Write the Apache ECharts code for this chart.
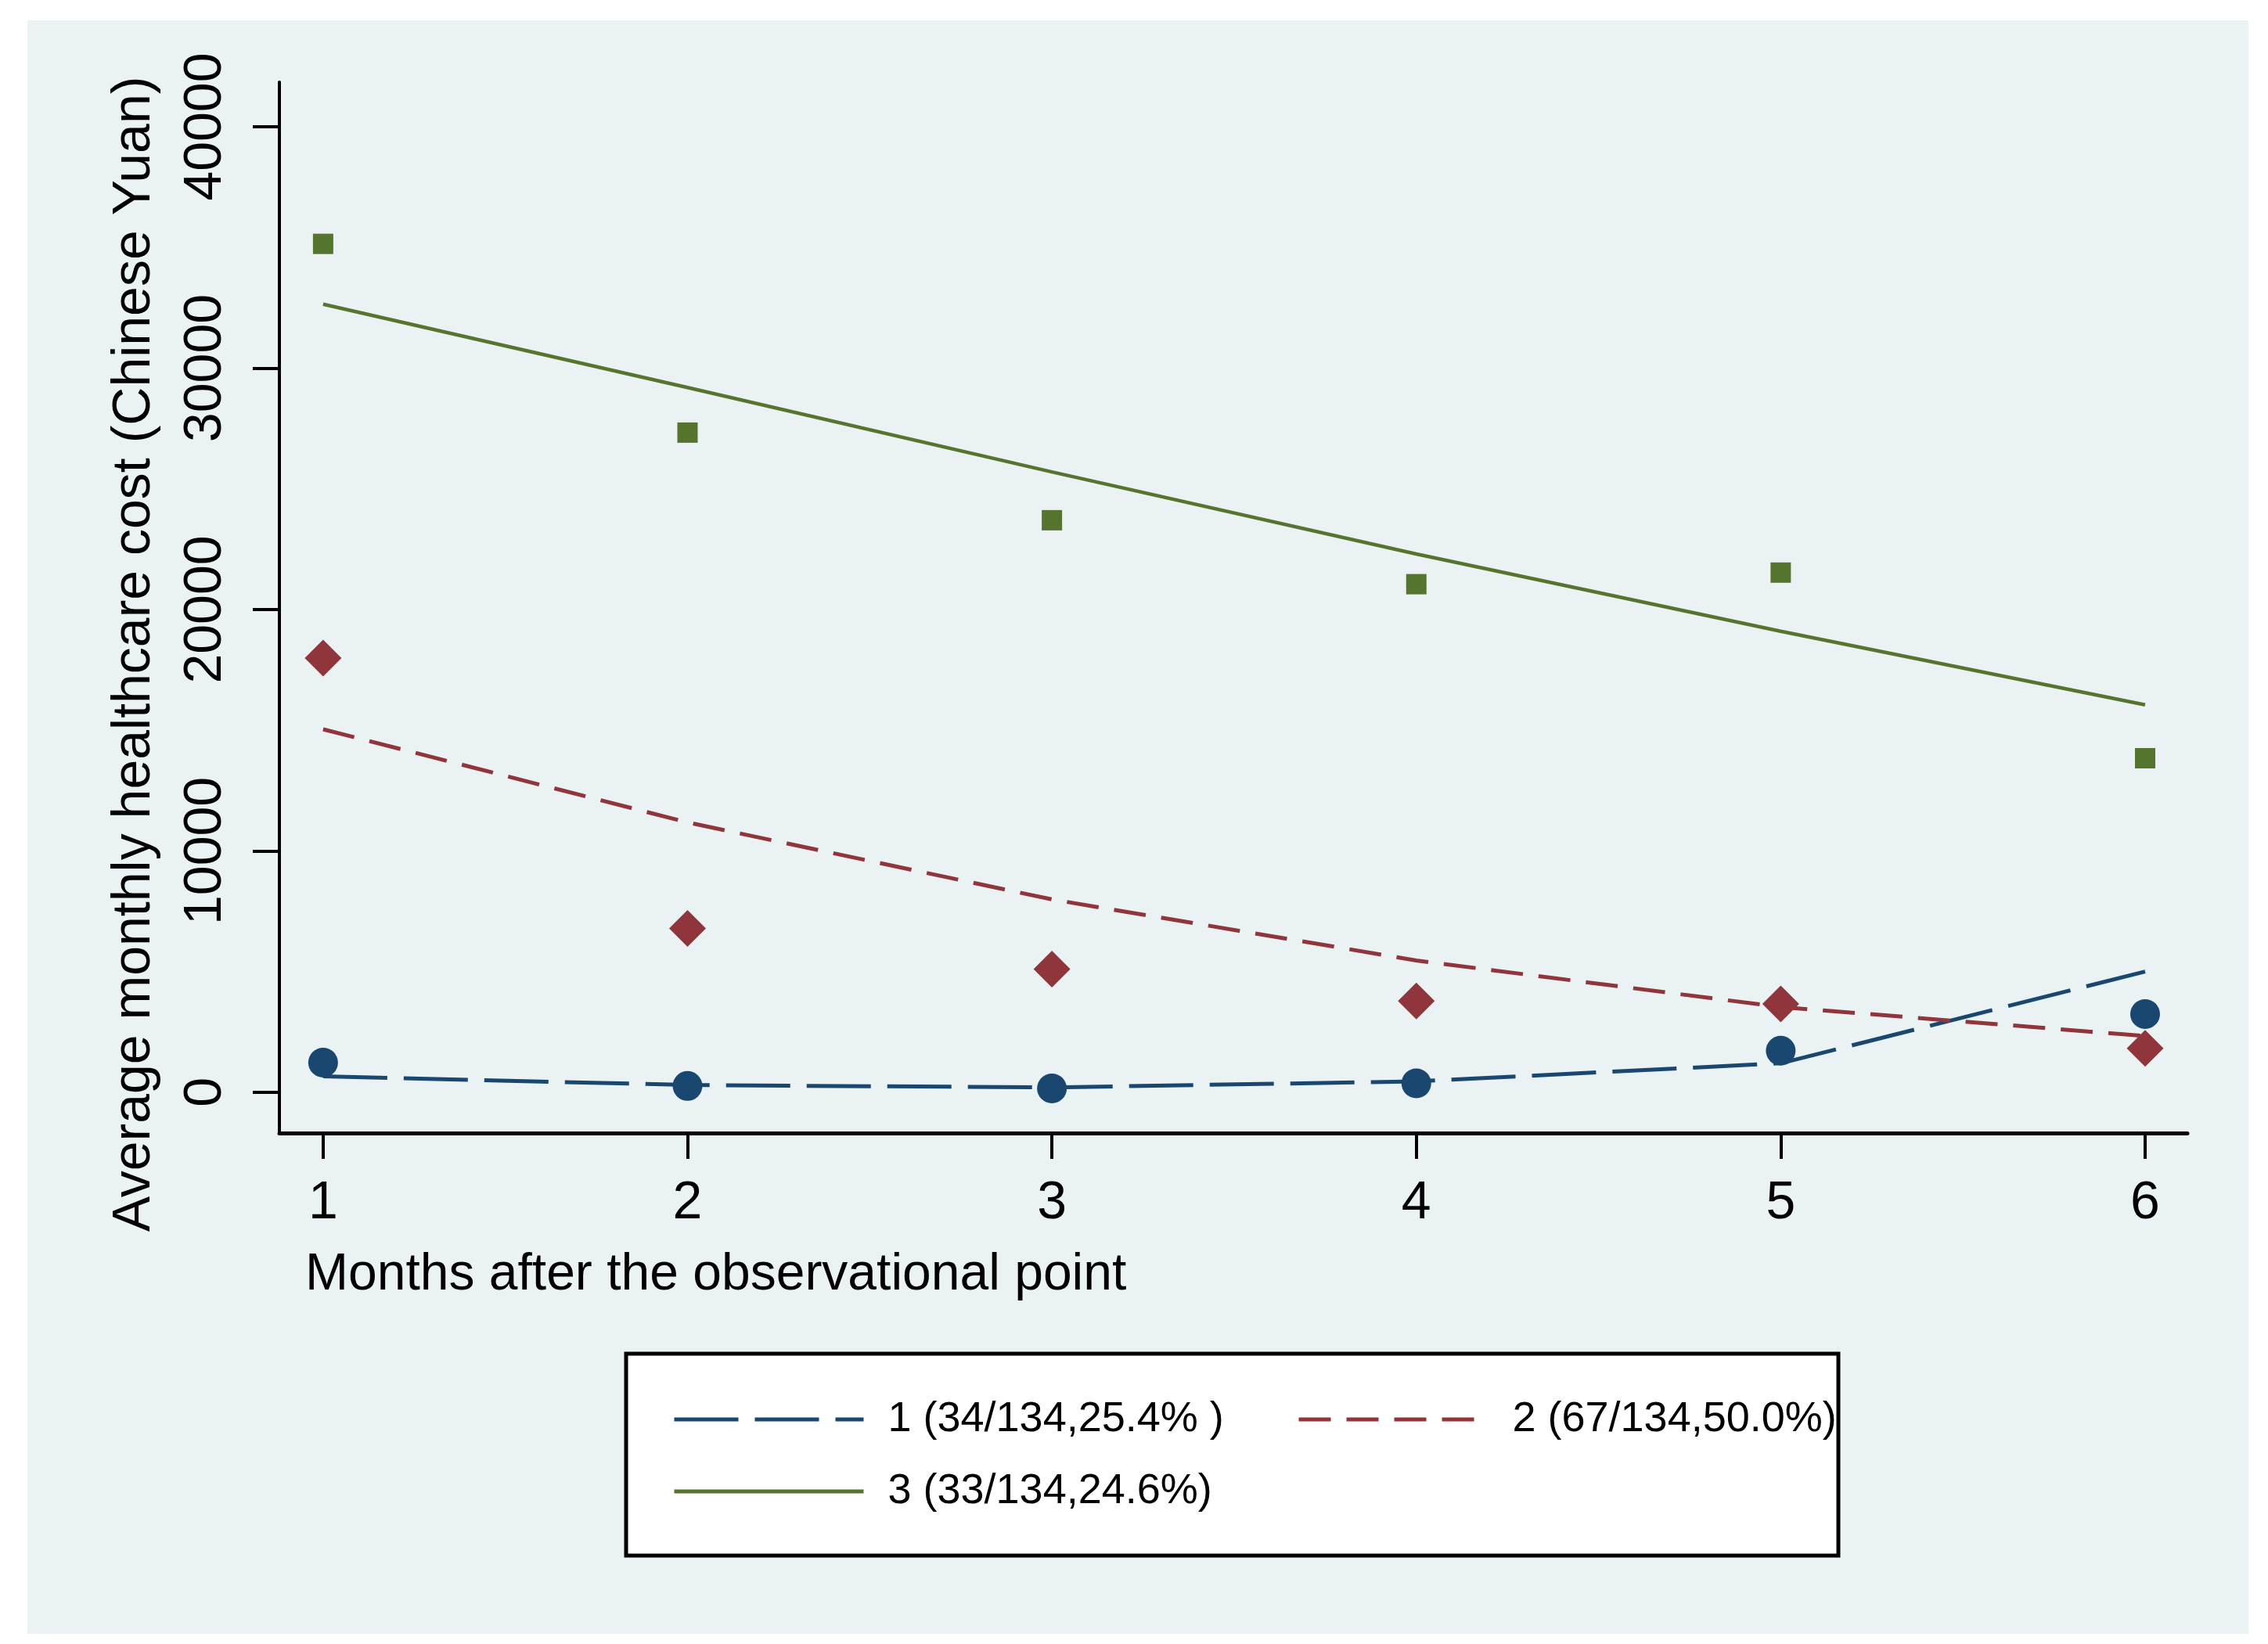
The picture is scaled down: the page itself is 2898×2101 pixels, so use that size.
<!DOCTYPE html>
<html>
<head>
<meta charset="utf-8">
<script src="https://cdn.jsdelivr.net/npm/echarts@6/dist/echarts.min.js"></script>
<style>
html,body{margin:0;padding:0;background:#ffffff;}
#c{width:2898px;height:2101px;}
</style>
</head>
<body>
<div id="c"></div>
<script>
// ---- data ----
var months = [1, 2, 3, 4, 5, 6];
var yTicks = [0, 10000, 20000, 30000, 40000];
var names = ['1 (34/134,25.4% )', '2 (67/134,50.0%)', '3 (33/134,24.6%)'];
// observed averages
var obs1 = [1230, 260, 160, 370, 1720, 3240];
var obs2 = [17990, 6790, 5100, 3780, 3660, 1820];
var obs3 = [35150, 27330, 23700, 21050, 21530, 13840];
// fitted trajectories
var fit1 = [660, 300, 200, 450, 1200, 5000];
var fit2 = [15040, 11180, 7990, 5460, 3530, 2330];
var fit3 = [32650, 29200, 25700, 22300, 19100, 16050];

var C1 = '#1A476F', C2 = '#90353B', C3 = '#55752F';
var FONT = '"Liberation Sans", Arial, sans-serif';

function pairs(v) { return months.map(function (m, i) { return [m, v[i]]; }); }

var chart = echarts.init(document.getElementById('c'), null, {renderer: 'canvas'});

var legendBase = {
  orient: 'horizontal', padding: 0, itemWidth: 242, itemHeight: 8,
  itemStyle: {opacity: 0},
  lineStyle: {width: 5},
  textStyle: {fontFamily: FONT, fontSize: 54, color: '#000', padding: [0, 0, 0, 26]},
  selectedMode: false
};

var option = {
  backgroundColor: 'transparent',
  animation: false,
  grid: {left: 357, right: 103, top: 105, bottom: 653, containLabel: false},
  graphic: [
    {type: 'rect', z: -10, shape: {x: 35, y: 26, width: 2838, height: 2062}, style: {fill: '#EAF2F3'}, silent: true},
    {type: 'rect', z: 0, shape: {x: 800, y: 1730, width: 1549, height: 258}, style: {fill: '#ffffff', stroke: '#000', lineWidth: 5}, silent: true},
    {type: 'text', x: 172, y: 836, rotation: Math.PI / 2,
      style: {text: 'Average monthly healthcare cost (Chinese Yuan)', font: '68px ' + FONT, fill: '#000', textAlign: 'center', textVerticalAlign: 'middle'}},
    {type: 'text', x: 390, y: 1630,
      style: {text: 'Months after the observational point', font: '66px ' + FONT, fill: '#000', textAlign: 'left', textVerticalAlign: 'middle'}}
  ],
  legend: [
    Object.assign({}, legendBase, {data: [names[0]], left: 859, top: 1787}),
    Object.assign({}, legendBase, {data: [names[1]], left: 1657, top: 1787}),
    Object.assign({}, legendBase, {data: [names[2]], left: 859, top: 1879})
  ],
  xAxis: {
    type: 'value', min: 0.88, max: 6.116,
    splitLine: {show: false},
    axisLine: {show: true, onZero: false, lineStyle: {color: '#000', width: 5}},
    axisTick: {show: true, length: 33, lineStyle: {color: '#000', width: 4}, customValues: months},
    axisLabel: {show: true, customValues: months, margin: 56, fontFamily: FONT, fontSize: 68, color: '#000',
      formatter: function (v) { return String(v); }}
  },
  yAxis: {
    type: 'value', min: -1690, max: 41850,
    splitLine: {show: false},
    axisLine: {show: true, onZero: false, lineStyle: {color: '#000', width: 4}},
    axisTick: {show: true, length: 34, lineStyle: {color: '#000', width: 4}, customValues: yTicks},
    axisLabel: {show: true, customValues: yTicks, rotate: 90, margin: 60, fontFamily: FONT, fontSize: 68, color: '#000',
      formatter: function (v) { return String(v); }}
  },
  series: [
    {name: names[0], type: 'line', data: pairs(fit1), symbol: 'none', z: 3,
      lineStyle: {color: C1, width: 5, type: [82, 21]}, itemStyle: {color: C1}},
    {name: names[1], type: 'line', data: pairs(fit2), symbol: 'none', z: 3,
      lineStyle: {color: C2, width: 5, type: [41, 20]}, itemStyle: {color: C2}},
    {name: names[2], type: 'line', data: pairs(fit3), symbol: 'none', z: 3,
      lineStyle: {color: C3, width: 4.5, type: 'solid'}, itemStyle: {color: C3}},
    {name: 'obs1', type: 'scatter', data: pairs(obs1), symbol: 'circle', symbolSize: 38, z: 4, itemStyle: {color: C1, opacity: 1}},
    {name: 'obs2', type: 'scatter', data: pairs(obs2), symbol: 'diamond', symbolSize: 47, z: 4, itemStyle: {color: C2, opacity: 1}},
    {name: 'obs3', type: 'scatter', data: pairs(obs3), symbol: 'rect', symbolSize: 26, z: 4, itemStyle: {color: C3, opacity: 1}}
  ]
};
chart.setOption(option);
</script>
</body>
</html>
